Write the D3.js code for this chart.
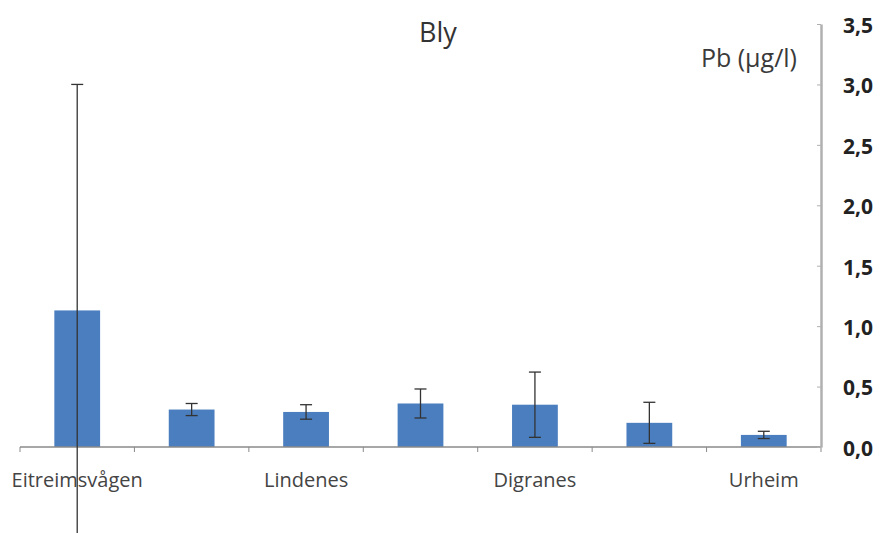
<!DOCTYPE html>
<html>
<head>
<meta charset="utf-8">
<script src="https://cdn.jsdelivr.net/npm/d3@7"></script>
<style>
  html, body { margin: 0; padding: 0; background: #fff; }
  svg { display: block; }
</style>
</head>
<body>
<svg id="chart" width="881" height="533"></svg>
<script>
// ---- data ----
const categories = ["Eitreimsvågen", "", "Lindenes", "", "Digranes", "", "Urheim"];
const values = [1.13, 0.31, 0.29, 0.36, 0.35, 0.20, 0.10];
const errors = [1.87, 0.05, 0.06, 0.12, 0.27, 0.17, 0.03];
const yTicks = [0, 0.5, 1.0, 1.5, 2.0, 2.5, 3.0, 3.5];
const titleText = "Bly";
const unitText = "Pb (µg/l)";

// ---- layout ----
const svg = d3.select("#chart");
const font = "'Open Sans', 'DejaVu Sans', sans-serif";
const plotL = 20, plotR = 821, plotT = 24, plotB = 447;

const x = d3.scaleBand()
  .domain(categories.map((d, i) => i))
  .range([plotL, plotR])
  .paddingInner(0.6)
  .paddingOuter(0.3);

const y = d3.scaleLinear().domain([0, 3.5]).range([plotB, plotT]);

// bars
svg.append("g").selectAll("rect")
  .data(values)
  .join("rect")
  .attr("x", (d, i) => x(i))
  .attr("width", x.bandwidth())
  .attr("y", d => y(d))
  .attr("height", d => y(0) - y(d))
  .attr("fill", "#4a7ebf");

// x axis
const step = (plotR - plotL) / categories.length;
const xAxisG = svg.append("g");
xAxisG.append("line")
  .attr("x1", plotL).attr("x2", plotR)
  .attr("y1", y(0)).attr("y2", y(0))
  .attr("stroke", "#8a8a8a").attr("stroke-width", 1.5);
xAxisG.selectAll("line.tk")
  .data(d3.range(categories.length + 1))
  .join("line")
  .attr("class", "tk")
  .attr("x1", i => plotL + i * step).attr("x2", i => plotL + i * step)
  .attr("y1", y(0)).attr("y2", y(0) + 5)
  .attr("stroke", "#8a8a8a").attr("stroke-width", 1);
xAxisG.selectAll("text")
  .data(categories)
  .join("text")
  .attr("x", (d, i) => x(i) + x.bandwidth() / 2)
  .attr("y", 487)
  .attr("text-anchor", "middle")
  .attr("font-family", font)
  .attr("font-size", 20)
  .attr("fill", "#444")
  .text(d => d);

// error bars
const eb = svg.append("g").attr("stroke", "#333").attr("stroke-width", 1.3);
values.forEach((v, i) => {
  const cx = x(i) + x.bandwidth() / 2;
  eb.append("line")
    .attr("x1", cx).attr("x2", cx)
    .attr("y1", y(v + errors[i])).attr("y2", y(v - errors[i]));
  eb.append("line")
    .attr("x1", cx - 6).attr("x2", cx + 6)
    .attr("y1", y(v + errors[i])).attr("y2", y(v + errors[i]));
  eb.append("line")
    .attr("x1", cx - 6).attr("x2", cx + 6)
    .attr("y1", y(v - errors[i])).attr("y2", y(v - errors[i]));
});

// y axis on right
const yAxis = d3.axisRight(y)
  .tickValues(yTicks)
  .tickSize(0)
  .tickPadding(22)
  .tickFormat(d => d3.format(".1f")(d).replace(".", ","));
const yg = svg.append("g").attr("transform", `translate(${plotR},0)`).call(yAxis);
yg.select(".domain").attr("stroke", "#b0b0b0").attr("stroke-width", 2.5);
yg.selectAll(".tick line").remove();
yg.selectAll(".tick").append("line")
  .attr("x1", -4).attr("x2", 0)
  .attr("stroke", "#b0b0b0").attr("stroke-width", 1);
yg.selectAll(".tick text")
  .attr("font-family", font)
  .attr("font-size", 21)
  .attr("font-weight", "bold")
  .attr("fill", "#222")
  .attr("dy", "0.4em");

// title and unit
svg.append("text")
  .attr("x", 438).attr("y", 42)
  .attr("text-anchor", "middle")
  .attr("font-family", font)
  .attr("font-size", 27)
  .attr("fill", "#333")
  .text(titleText);
svg.append("text")
  .attr("x", 797).attr("y", 67)
  .attr("text-anchor", "end")
  .attr("font-family", font)
  .attr("font-size", 25)
  .attr("fill", "#3a3a3a")
  .text(unitText);
</script>
</body>
</html>
